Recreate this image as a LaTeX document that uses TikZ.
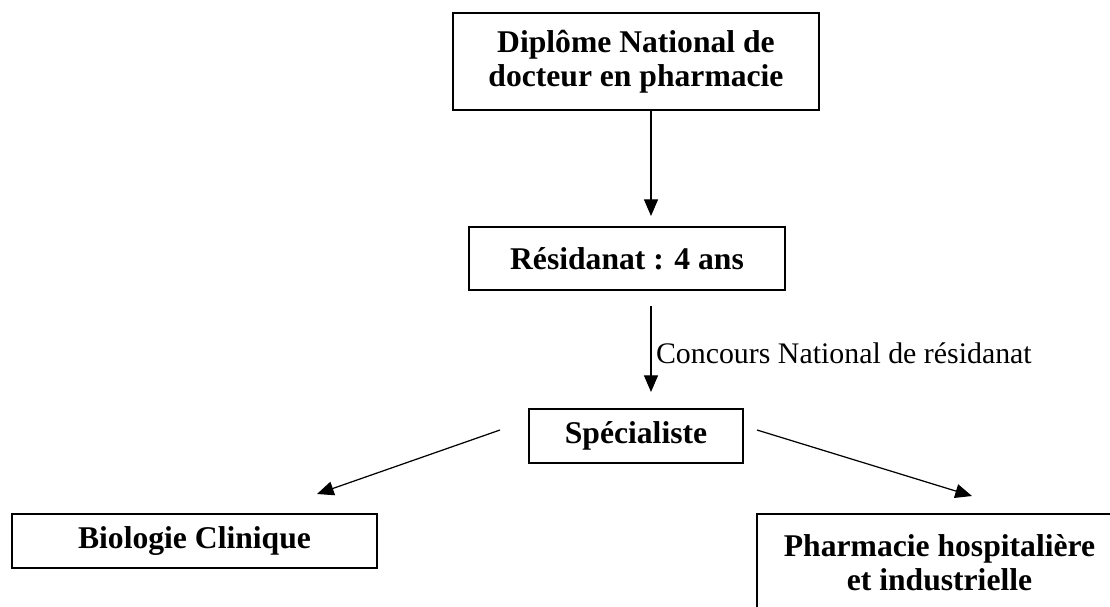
\documentclass[tikz,border=0pt]{standalone}
\usepackage{fontspec}
\setmainfont{Liberation Serif}
\usetikzlibrary{arrows.meta}

\begin{document}
\begin{tikzpicture}[x=0.02cm, y=-0.02cm,
    box/.style = {draw, line width=0.85pt, align=center, inner sep=0pt,
                  font=\fontsize{18}{19.5}\selectfont\bfseries},
    arr/.style = {line width=0.7pt, -{Triangle[length=9.5pt,width=8pt]}}]
    \useasboundingbox (0,0) rectangle (1110,606);
    \clip (0,0) rectangle (1110,606);

    \node [box, minimum width=7.32cm, minimum height=1.94cm] (dipl) at (636,61.5)
        {Diplôme National de\\docteur en pharmacie};
    \node [box, minimum width=6.32cm, minimum height=1.26cm] (resid) at (627,258.5)
        {Résidanat : 4 ans};
    \node [box, minimum width=4.28cm, minimum height=1.08cm] (spec) at (636,436)
        {Spécialiste};
    \node [box, minimum width=7.30cm, minimum height=1.08cm] (bio) at (194.5,541)
        {Biologie Clinique};
    \node [box, minimum width=7.30cm, minimum height=1.96cm] (pharma) at (939.5,563)
        {Pharmacie hospitalière\\et industrielle};

    \coordinate (residtop) at (651,216);
    \coordinate (residbot) at (651,306);
    \coordinate (spectop) at (651,392);
    \coordinate (specleft) at (500,430);
    \coordinate (bioend) at (317,494);
    \coordinate (specright) at (757,430);
    \coordinate (pharmaend) at (972,496);

    \draw [arr] (dipl.south -| residtop) -- (residtop);

    \draw [arr] (residbot) -- (spectop)
        node [right, pos=0.55, inner sep=2.5pt, font=\fontsize{17}{19}\selectfont]
        {Concours National de résidanat};

    \draw [arr] (specleft) -- (bioend);
    \draw [arr] (specright) -- (pharmaend);
\end{tikzpicture}
\end{document}
